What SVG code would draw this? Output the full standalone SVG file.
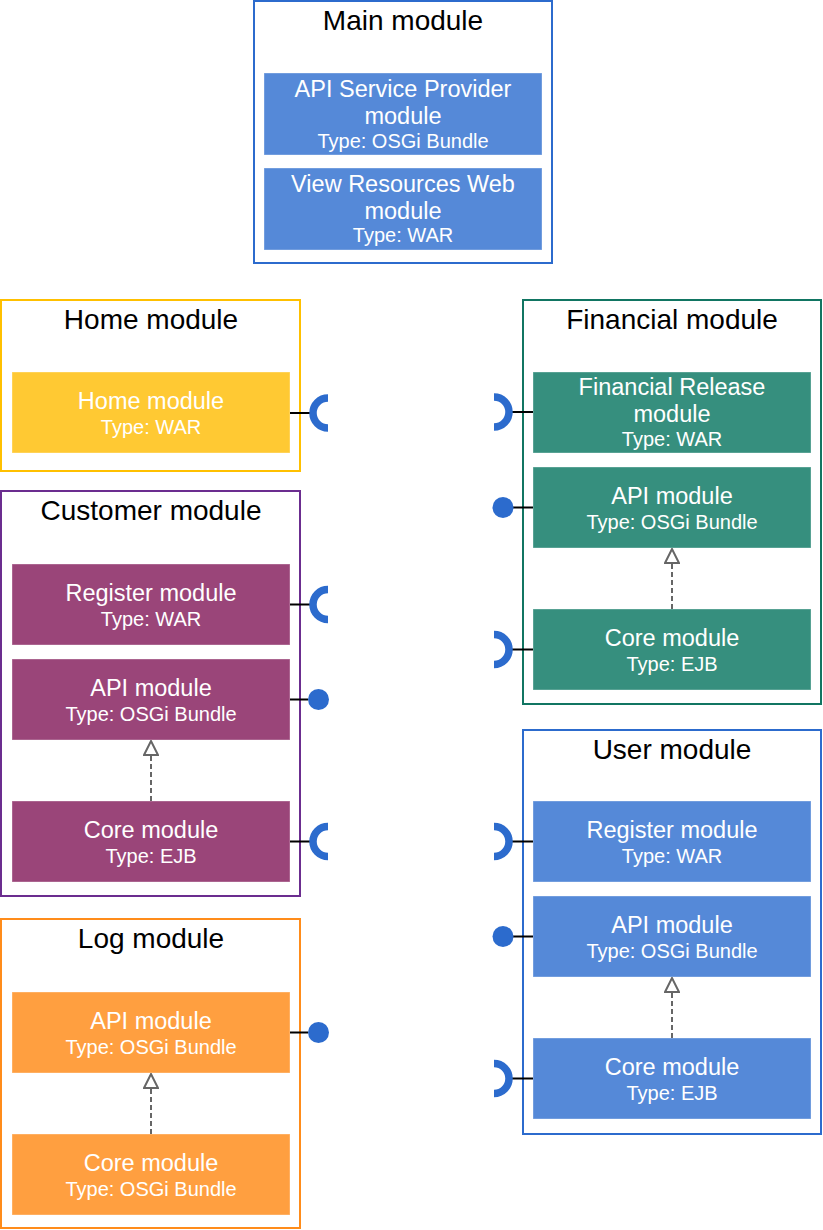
<svg xmlns="http://www.w3.org/2000/svg" width="823" height="1230" viewBox="0 0 823 1230">
<style>
  text { font-family: "Liberation Sans", Arial, sans-serif; text-anchor: middle; }
  .title { font-size: 28px; fill: #000; }
  .name { font-size: 23.5px; fill: #fff; }
  .type { font-size: 20px; fill: #fff; }
  .outer { fill: #fff; stroke-width: 2; }
  .inner { stroke: #ffffff; stroke-opacity: 0.35; stroke-width: 1; }
  .blueO { stroke: #2C6BCD; }
  .yellowO { stroke: #FFC000; }
  .purpleO { stroke: #6B2D8F; }
  .orangeO { stroke: #FF8C1A; }
  .tealO { stroke: #117562; }
  .blueI { fill: #5589D8; }
  .yellowI { fill: #FFC933; }
  .purpleI { fill: #9A4579; }
  .orangeI { fill: #FF9F40; }
  .tealI { fill: #368F7E; }
  .wire { stroke: #000; stroke-width: 2; fill: none; }
  .socket { stroke: #2C6BCD; stroke-width: 7.5; fill: none; }
  .ball { fill: #2C6BCD; }
  .real { stroke: #666; stroke-width: 2; stroke-dasharray: 5 3; fill: none; }
</style>
<defs>
  <marker id="tri" viewBox="0 0 16 16" refX="15" refY="8" markerWidth="16" markerHeight="16" markerUnits="userSpaceOnUse" orient="auto">
    <path d="M1 1 L15 8 L1 15 Z" fill="#fff" stroke="#666" stroke-width="2"/>
  </marker>
</defs>

<!-- Main module -->
<g id="main-module">
  <rect class="outer blueO" x="254" y="1" width="298" height="262"/>
  <text class="title" x="403" y="30">Main module</text>
</g>
<g id="main-api-provider">
  <rect class="inner blueI" x="264" y="73" width="278" height="82"/>
  <text class="name" x="403" y="97">API Service Provider</text>
  <text class="name" x="403" y="123.5">module</text>
  <text class="type" x="403" y="148">Type: OSGi Bundle</text>
</g>
<g id="main-view-resources">
  <rect class="inner blueI" x="264" y="168" width="278" height="82"/>
  <text class="name" x="403" y="192">View Resources Web</text>
  <text class="name" x="403" y="218.5">module</text>
  <text class="type" x="403" y="242">Type: WAR</text>
</g>

<!-- Home module -->
<g id="home-module">
  <rect class="outer yellowO" x="1" y="300" width="299" height="171"/>
  <text class="title" x="151" y="329">Home module</text>
</g>
<g id="home-war">
  <rect class="inner yellowI" x="12" y="372" width="278" height="81"/>
  <text class="name" x="151" y="408.5">Home module</text>
  <text class="type" x="151" y="434">Type: WAR</text>
</g>

<!-- Customer module -->
<g id="customer-module">
  <rect class="outer purpleO" x="1" y="491" width="299" height="405"/>
  <text class="title" x="151" y="520">Customer module</text>
</g>
<g id="customer-register">
  <rect class="inner purpleI" x="12" y="564" width="278" height="81"/>
  <text class="name" x="151" y="600.5">Register module</text>
  <text class="type" x="151" y="626">Type: WAR</text>
</g>
<g id="customer-api">
  <rect class="inner purpleI" x="12" y="659" width="278" height="81"/>
  <text class="name" x="151" y="695.5">API module</text>
  <text class="type" x="151" y="721">Type: OSGi Bundle</text>
</g>
<g id="customer-core">
  <rect class="inner purpleI" x="12" y="801" width="278" height="81"/>
  <text class="name" x="151" y="837.5">Core module</text>
  <text class="type" x="151" y="863">Type: EJB</text>
</g>

<!-- Log module -->
<g id="log-module">
  <rect class="outer orangeO" x="1" y="919" width="299" height="309"/>
  <text class="title" x="151" y="948">Log module</text>
</g>
<g id="log-api">
  <rect class="inner orangeI" x="12" y="992" width="278" height="81"/>
  <text class="name" x="151" y="1028.5">API module</text>
  <text class="type" x="151" y="1054">Type: OSGi Bundle</text>
</g>
<g id="log-core">
  <rect class="inner orangeI" x="12" y="1134" width="278" height="81"/>
  <text class="name" x="151" y="1170.5">Core module</text>
  <text class="type" x="151" y="1196">Type: OSGi Bundle</text>
</g>

<!-- Financial module -->
<g id="financial-module">
  <rect class="outer tealO" x="523" y="300" width="298" height="404"/>
  <text class="title" x="672" y="329">Financial module</text>
</g>
<g id="financial-release">
  <rect class="inner tealI" x="533" y="372" width="278" height="81"/>
  <text class="name" x="672" y="395">Financial Release</text>
  <text class="name" x="672" y="421.5">module</text>
  <text class="type" x="672" y="446">Type: WAR</text>
</g>
<g id="financial-api">
  <rect class="inner tealI" x="533" y="467" width="278" height="81"/>
  <text class="name" x="672" y="503.5">API module</text>
  <text class="type" x="672" y="529">Type: OSGi Bundle</text>
</g>
<g id="financial-core">
  <rect class="inner tealI" x="533" y="609" width="278" height="81"/>
  <text class="name" x="672" y="645.5">Core module</text>
  <text class="type" x="672" y="671">Type: EJB</text>
</g>

<!-- User module -->
<g id="user-module">
  <rect class="outer blueO" x="523" y="730" width="298" height="404"/>
  <text class="title" x="672" y="759">User module</text>
</g>
<g id="user-register">
  <rect class="inner blueI" x="533" y="801" width="278" height="81"/>
  <text class="name" x="672" y="837.5">Register module</text>
  <text class="type" x="672" y="863">Type: WAR</text>
</g>
<g id="user-api">
  <rect class="inner blueI" x="533" y="896" width="278" height="81"/>
  <text class="name" x="672" y="932.5">API module</text>
  <text class="type" x="672" y="958">Type: OSGi Bundle</text>
</g>
<g id="user-core">
  <rect class="inner blueI" x="533" y="1038" width="278" height="81"/>
  <text class="name" x="672" y="1074.5">Core module</text>
  <text class="type" x="672" y="1100">Type: EJB</text>
</g>

<!-- Connectors -->
<g id="connectors">
  <!-- left side: required sockets and provided balls -->
  <path class="wire" d="M290 413 H310"/>
  <path class="socket" d="M328 398 A15 15 0 0 0 328 428"/>

  <path class="wire" d="M290 604.5 H310"/>
  <path class="socket" d="M328 589.5 A15 15 0 0 0 328 619.5"/>

  <path class="wire" d="M290 699.5 H308"/>
  <circle class="ball" cx="318.5" cy="699.5" r="10.5"/>

  <path class="wire" d="M290 841.5 H310"/>
  <path class="socket" d="M328 826.5 A15 15 0 0 0 328 856.5"/>

  <path class="wire" d="M290 1032.5 H308"/>
  <circle class="ball" cx="318.5" cy="1032.5" r="10.5"/>

  <!-- right side -->
  <path class="wire" d="M533 412 H512"/>
  <path class="socket" d="M494 397 A15 15 0 0 1 494 427"/>

  <path class="wire" d="M533 507.5 H513"/>
  <circle class="ball" cx="503" cy="507.5" r="10.5"/>

  <path class="wire" d="M533 649.5 H512"/>
  <path class="socket" d="M494 634.5 A15 15 0 0 1 494 664.5"/>

  <path class="wire" d="M533 841.5 H512"/>
  <path class="socket" d="M494 826.5 A15 15 0 0 1 494 856.5"/>

  <path class="wire" d="M533 936.5 H513"/>
  <circle class="ball" cx="503" cy="936.5" r="10.5"/>

  <path class="wire" d="M533 1078.5 H512"/>
  <path class="socket" d="M494 1063.5 A15 15 0 0 1 494 1093.5"/>

  <!-- realization arrows (Core implements API) -->
  <path class="real" d="M151 801 V741" marker-end="url(#tri)"/>
  <path class="real" d="M151 1134 V1074" marker-end="url(#tri)"/>
  <path class="real" d="M672 609 V549" marker-end="url(#tri)"/>
  <path class="real" d="M672 1038 V978" marker-end="url(#tri)"/>
</g>
</svg>
